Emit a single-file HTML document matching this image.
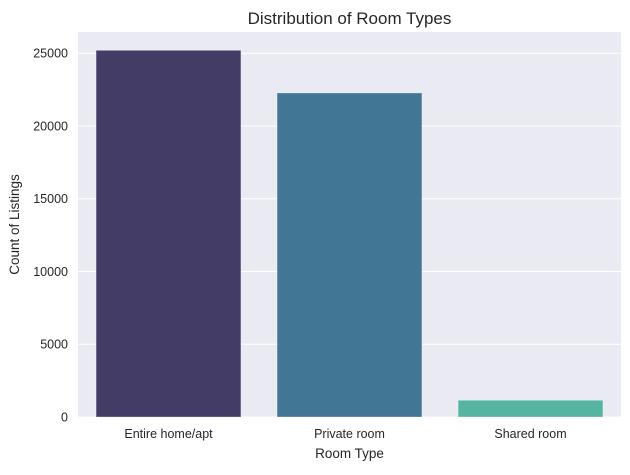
<!DOCTYPE html>
<html><head><meta charset="utf-8"><style>
body{margin:0;background:#fff;font-family:"Liberation Sans",sans-serif;}
</style></head><body>
<svg width="630" height="470" xmlns="http://www.w3.org/2000/svg">
<g id="root"></g>
</svg>
<script>
const categories=["Entire home/apt","Private room","Shared room"];
const counts=[25200,22270,1150];
const yTicks=[0,5000,10000,15000,20000,25000];
const colors=["#433c67","#427695","#56b5a1"];
const L=78,R=621,T=32,B=417;
const yMax=Math.max(...counts)*1.05;
const y=v=>B-(v/yMax)*(B-T);
const band=(R-L)/categories.length;
const x=i=>L+band*i+band/2;
const ns="http://www.w3.org/2000/svg";
const root=document.getElementById('root');
function mk(t,a,txt){const e=document.createElementNS(ns,t);for(const k in a)e.setAttribute(k,a[k]);if(txt!==undefined)e.textContent=txt;root.appendChild(e);return e;}
let e=mk('rect',{x:L,y:T,width:R-L,height:B-T,fill:'#eaeaf2'});


yTicks.forEach(v=>{
 let g=mk('line',{x1:L,x2:R,y1:y(v),y2:y(v),stroke:'#fff','stroke-width':1});
 
 
 let t=mk('text',{x:L-10,y:y(v)+4.5,'text-anchor':'end','font-size':12.5,fill:'#262626'},v);
 
 
});
categories.forEach((c,i)=>{
 const w=band*0.8;
 let b=mk('rect',{x:x(i)-w/2,y:y(counts[i]),width:w,height:B-y(counts[i]),fill:colors[i],stroke:'rgba(255,255,255,0.3)','stroke-width':1});
 
 
 let t=mk('text',{x:x(i),y:B+21,'text-anchor':'middle','font-size':12.5,fill:'#262626'},c);
 
 
});
e=mk('text',{x:(L+R)/2,y:24,'text-anchor':'middle','font-size':17,fill:'#262626'},'Distribution of Room Types');


e=mk('text',{x:(L+R)/2,y:458,'text-anchor':'middle','font-size':13.5,fill:'#262626'},'Room Type');


e=mk('text',{x:0,y:0,'text-anchor':'middle','font-size':13.5,fill:'#262626',transform:`translate(19,${(T+B)/2}) rotate(-90)`},'Count of Listings');


</script>
</body></html>
